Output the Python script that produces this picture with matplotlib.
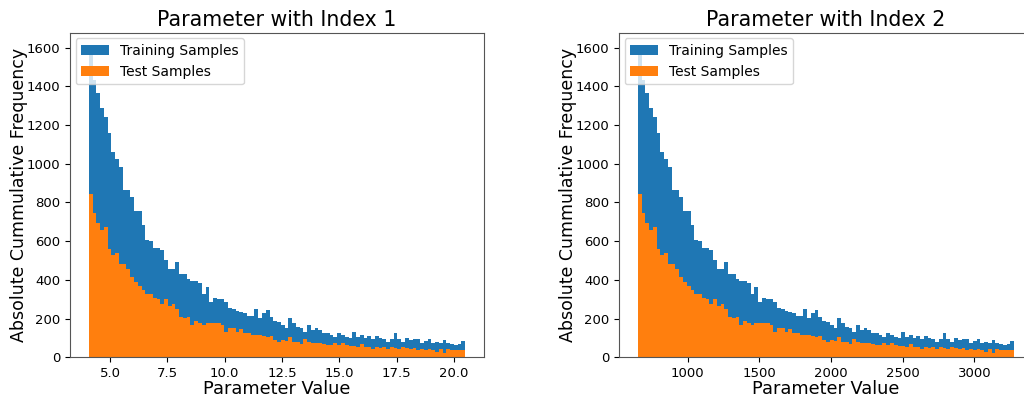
import numpy as np
import matplotlib
matplotlib.use("Agg")
import matplotlib.pyplot as plt

# histogram counts (100 bins per panel)
train_counts = [1597, 1430, 1367, 1287, 1240, 1161, 1063, 1023, 985, 865,
                865, 830, 758, 758, 682, 606, 603, 563, 563, 555,
                503, 455, 455, 494, 430, 430, 403, 396, 396, 382,
                327, 365, 288, 305, 300, 301, 284, 253, 248, 241,
                232, 227, 214, 214, 248, 201, 227, 245, 207, 189,
                184, 167, 150, 201, 179, 155, 150, 133, 167, 141,
                150, 141, 127, 127, 115, 103, 127, 115, 107, 98,
                133, 103, 115, 98, 110, 93, 110, 98, 93, 81,
                93, 124, 93, 81, 98, 90, 93, 93, 72, 86,
                93, 76, 81, 72, 90, 72, 69, 64, 69, 86]
test_counts = [846, 744, 696, 658, 672, 558, 529, 537, 482, 482,
               455, 417, 391, 369, 348, 327, 327, 305, 301, 276,
               301, 265, 276, 248, 207, 201, 210, 167, 189, 179,
               167, 179, 176, 176, 176, 167, 133, 150, 150, 133,
               145, 127, 124, 115, 115, 115, 110, 107, 110, 90,
               81, 90, 86, 103, 81, 81, 69, 93, 81, 76,
               72, 72, 69, 64, 64, 72, 64, 72, 64, 59,
               59, 55, 69, 55, 52, 41, 55, 46, 55, 41,
               52, 46, 41, 52, 46, 41, 46, 38, 41, 38,
               41, 38, 29, 41, 24, 41, 38, 38, 38, 38]

param_ranges = [(4.08, 20.49), (653, 3278)]
titles = ["Parameter with Index 1", "Parameter with Index 2"]

fig = plt.figure(figsize=(10.24, 3.96), dpi=100)
axes = [fig.add_axes([0.0684, 0.0977, 0.4043, 0.8197]),
        fig.add_axes([0.6045, 0.0977, 0.4043, 0.8197])]

for ax, (lo, hi), title in zip(axes, param_ranges, titles):
    edges = np.linspace(lo, hi, len(train_counts) + 1)
    centers = (edges[:-1] + edges[1:]) / 2
    ax.hist(centers, bins=edges, weights=train_counts, color="C0",
            histtype="stepfilled", label="Training Samples")
    ax.hist(centers, bins=edges, weights=test_counts, color="C1",
            histtype="stepfilled", label="Test Samples")
    ax.set_title(title, fontsize=14.8, pad=5)
    ax.set_xlabel("Parameter Value", fontsize=12.8, labelpad=0)
    ax.set_ylabel("Absolute Cummulative Frequency", fontsize=12.5, labelpad=-1)
    ax.tick_params(labelsize=9.5)
    for sp in ax.spines.values():
        sp.set_color("#555555")
    ax.legend(loc="upper left", fontsize=10, handlelength=2.0,
              borderaxespad=0.4)

fig.savefig("out.png", dpi=100)
